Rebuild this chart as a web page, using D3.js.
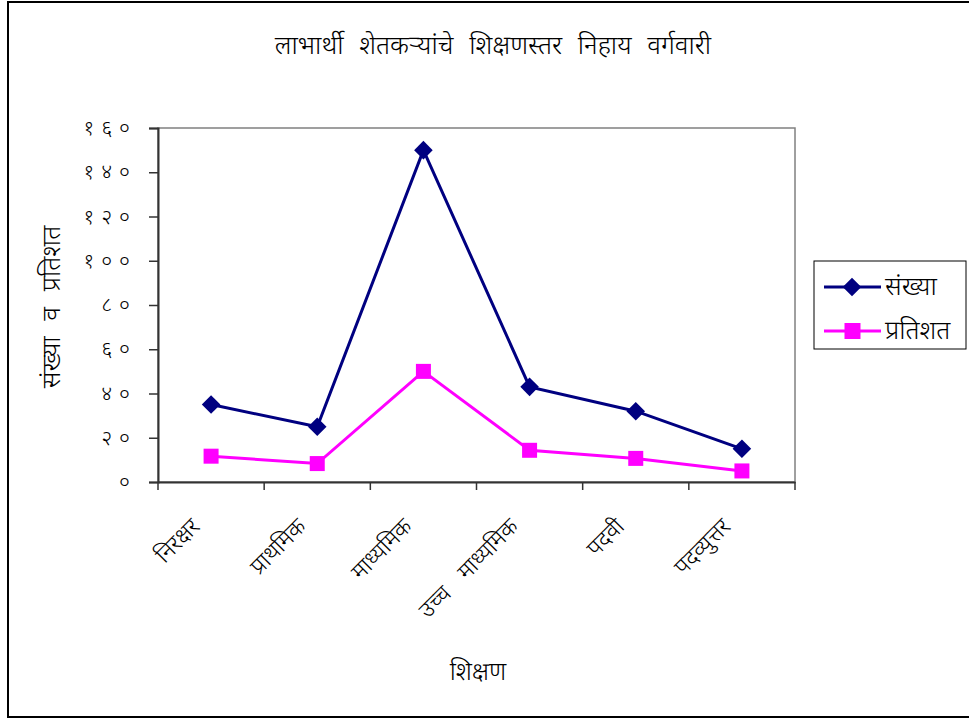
<!DOCTYPE html>
<meta charset="utf-8">
<head>
    <script src="https://d3js.org/d3.v7.min.js"></script>
    <style>
        body { margin: 0; background: #fff; }
        text { font-family: "Noto Sans Devanagari", "Lohit Devanagari", "Mangal", "Noto Sans", sans-serif; fill: #000; font-weight: 300; }
    </style>
</head>
<body>
<div id="graph"></div>
<script>
    // data
    var categories = ["निरक्षर", "प्राथमिक", "माध्यमिक", "उच्च माध्यमिक", "पदवी", "पदव्युत्तर"];
    var sankhya = [35, 25, 150, 43, 32, 15];
    var pratishat = [11.67, 8.33, 50, 14.33, 10.67, 5];
    var yTicks = [0, 20, 40, 60, 80, 100, 120, 140, 160];
    var seriesNames = ["संख्या", "प्रतिशत"];

    var devDigits = "०१२३४५६७८९";
    function toDev(n) {
        return String(n).replace(/[0-9]/g, function(c) { return devDigits[+c]; });
    }

    var W = 969, H = 719;
    var margin = {top: 128, right: 174, bottom: 237, left: 158},
        width = W - margin.left - margin.right,
        height = H - margin.top - margin.bottom;

    var svg = d3.select("#graph")
      .append("svg")
        .attr("width", W)
        .attr("height", H);

    // outer frame
    svg.append("rect")
        .attr("x", 8).attr("y", 2)
        .attr("width", 975).attr("height", 715)
        .attr("fill", "none")
        .attr("stroke", "#000")
        .attr("stroke-width", 2);

    // title
    svg.append("text")
        .attr("x", 493).attr("y", 54)
        .attr("text-anchor", "middle")
        .style("font-size", "26px")
        .style("word-spacing", "9px")
        .text("लाभार्थी शेतकऱ्यांचे शिक्षणस्तर निहाय वर्गवारी");

    var g = svg.append("g")
        .attr("transform", "translate(" + margin.left + "," + margin.top + ")");

    var x = d3.scaleBand()
        .domain(categories)
        .range([0, width]);

    var y = d3.scaleLinear()
        .domain([0, 160])
        .range([height, 0]);

    // plot area border (gray)
    g.append("rect")
        .attr("width", width)
        .attr("height", height)
        .attr("fill", "#fff")
        .attr("stroke", "#808080")
        .attr("stroke-width", 1.5);

    // Y axis
    var yAxis = g.append("g")
        .call(d3.axisLeft(y).tickValues(yTicks).tickSize(9).tickPadding(12).tickFormat(toDev));
    yAxis.select(".domain").attr("stroke", "#333").attr("stroke-width", 2);
    yAxis.selectAll(".tick line").attr("stroke", "#333").attr("stroke-width", 1.5);
    yAxis.selectAll("text")
        .style("font-size", "21px")
        .style("letter-spacing", "7px")
        .attr("fill", "#000");

    // X axis
    var xAxis = g.append("g")
        .attr("transform", "translate(0," + height + ")")
        .call(d3.axisBottom(x).tickSize(0).tickFormat(""));
    xAxis.select(".domain").attr("stroke", "#333").attr("stroke-width", 2);
    // category boundary ticks
    var bounds = categories.map(function(c) { return x(c); }).concat([width]);
    xAxis.selectAll(".bound")
        .data(bounds)
        .enter().append("line")
        .attr("x1", function(d) { return d; })
        .attr("x2", function(d) { return d; })
        .attr("y1", 0).attr("y2", 8)
        .attr("stroke", "#333")
        .attr("stroke-width", 1.5);

    // category labels rotated
    g.selectAll(".cat")
        .data(categories)
        .enter().append("text")
        .attr("text-anchor", "end")
        .style("font-size", "23px")
        .style("word-spacing", "14px")
        .attr("transform", function(d) {
            var cx = x(d) + x.bandwidth() / 2 - 10;
            return "translate(" + cx + "," + (height + 46) + ") rotate(-45)";
        })
        .text(function(d) { return d; });

    // axis titles
    svg.append("text")
        .attr("x", 478).attr("y", 680)
        .attr("text-anchor", "middle")
        .style("font-size", "25px")
        .text("शिक्षण");

    svg.append("text")
        .attr("transform", "translate(60," + (margin.top + height / 2 + 2) + ") rotate(-90)")
        .attr("text-anchor", "middle")
        .style("font-size", "26px")
        .style("word-spacing", "9px")
        .text("संख्या व प्रतिशत");

    var cx = function(d, i) { return x(categories[i]) + x.bandwidth() / 2; };
    var line = d3.line()
        .x(function(d, i) { return x(categories[i]) + x.bandwidth() / 2; })
        .y(function(d) { return y(d); });

    // संख्या line
    g.append("path")
        .datum(sankhya)
        .attr("fill", "none")
        .attr("stroke", "#000080")
        .attr("stroke-width", 3)
        .attr("d", line);
    g.selectAll(".dia")
        .data(sankhya)
        .enter().append("path")
        .attr("d", d3.symbol().type(d3.symbolDiamond2).size(220))
        .attr("transform", function(d, i) { return "translate(" + cx(d, i) + "," + y(d) + ")"; })
        .attr("fill", "#000080");

    // प्रतिशत line
    g.append("path")
        .datum(pratishat)
        .attr("fill", "none")
        .attr("stroke", "#ff00ff")
        .attr("stroke-width", 3)
        .attr("d", line);
    g.selectAll(".sq")
        .data(pratishat)
        .enter().append("rect")
        .attr("x", function(d, i) { return cx(d, i) - 7.5; })
        .attr("y", function(d) { return y(d) - 7.5; })
        .attr("width", 15).attr("height", 15)
        .attr("fill", "#ff00ff");

    // legend
    var lg = svg.append("g").attr("transform", "translate(814,261)");
    lg.append("rect")
        .attr("width", 152).attr("height", 88)
        .attr("fill", "#fff")
        .attr("stroke", "#000")
        .attr("stroke-width", 1);
    var colors = ["#000080", "#ff00ff"];
    seriesNames.forEach(function(name, i) {
        var yy = 26 + i * 44;
        lg.append("line")
            .attr("x1", 10).attr("x2", 67)
            .attr("y1", yy).attr("y2", yy)
            .attr("stroke", colors[i]).attr("stroke-width", 3);
        if (i === 0) {
            lg.append("path")
                .attr("d", d3.symbol().type(d3.symbolDiamond2).size(220))
                .attr("transform", "translate(38," + yy + ")")
                .attr("fill", colors[i]);
        } else {
            lg.append("rect")
                .attr("x", 30.5).attr("y", yy - 8)
                .attr("width", 16).attr("height", 16)
                .attr("fill", colors[i]);
        }
        lg.append("text")
            .attr("x", 71).attr("y", yy + 8)
            .style("font-size", "26px")
            .text(name);
    });
</script>
</body>
